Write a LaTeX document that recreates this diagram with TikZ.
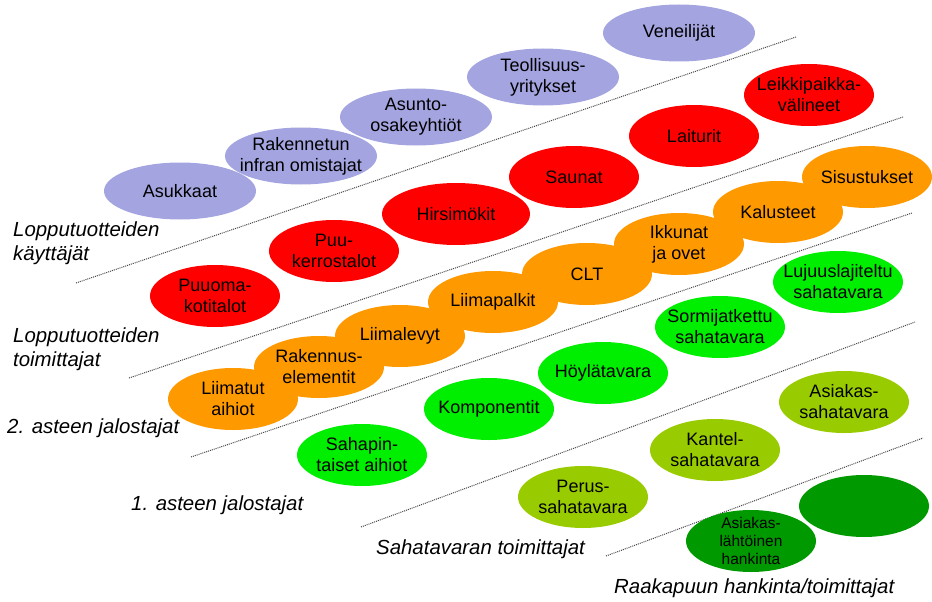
\documentclass[tikz,border=0pt]{standalone}
\usepackage{fontspec}
\setmainfont{Liberation Sans}
\usetikzlibrary{shapes.geometric}
\pgfdeclarelayer{front}
\pgfsetlayers{main,front}

\definecolor{users}{RGB}{164,164,224}
\definecolor{endprod}{RGB}{255,0,0}
\definecolor{second}{RGB}{255,153,0}
\definecolor{first}{RGB}{0,238,0}
\definecolor{sawn}{RGB}{153,204,0}
\definecolor{raw}{RGB}{0,153,0}

\tikzset{
  bub/.style={ellipse, inner sep=0pt, minimum width=130pt, minimum height=62pt, draw=none},
  btxt/.style={align=center, inner sep=0pt, font=\fontsize{18}{21}\selectfont},
  tier/.style={inner sep=0pt, align=left, font=\fontsize{20.4}{24}\selectfont\itshape},
  sep/.style={black!72, line width=1pt, dash pattern=on 1pt off 1pt},
}

% [text style]{fill colour}{ellipse options}{name}{centre}{text}
\newcommand{\blob}[6][]{%
  \node[bub, fill=#2, #3] (#4) at (#5) {};
  \begin{pgfonlayer}{front}\node[btxt,#1] (#4-t) at (#4) {#6};\end{pgfonlayer}
}

\begin{document}
\begin{tikzpicture}[x=1pt,y=-1pt]
\useasboundingbox (0,0) rectangle (932,602);

% tier separators
\coordinate (s1a) at (76,283);   \coordinate (s1b) at (796,37);
\coordinate (s2a) at (129,378);  \coordinate (s2b) at (903,117);
\coordinate (s3a) at (191,457);  \coordinate (s3b) at (912,213);
\coordinate (s4a) at (361,527);  \coordinate (s4b) at (915,322);
\coordinate (s5a) at (606,556);  \coordinate (s5b) at (923,438);
\draw[sep] (s1a) -- (s1b);
\draw[sep] (s2a) -- (s2b);
\draw[sep] (s3a) -- (s3b);
\draw[sep] (s4a) -- (s4b);
\draw[sep] (s5a) -- (s5b);

% end product users
\blob{users}{minimum width=152pt,minimum height=57pt}{asukkaat}{180,191}{Asukkaat}
\blob{users}{minimum width=152pt,minimum height=57pt}{infra}{301,156}{Rakennetun\\infran omistajat}
\blob{users}{minimum width=152pt,minimum height=57pt}{asunto}{416,117}{Asunto-\\osakeyhtiöt}
\blob{users}{minimum width=152pt,minimum height=57pt}{teoll}{543,77}{Teollisuus-\\yritykset}
\blob{users}{minimum width=152pt,minimum height=57pt}{veneil}{679,33}{Veneilijät}

% end product suppliers
\blob{endprod}{}{puuoma}{215,296}{Puuoma-\\kotitalot}
\blob{endprod}{}{puuker}{334,251}{Puu-\\kerrostalot}
\blob{endprod}{minimum width=148pt}{hirsi}{456,214}{Hirsimökit}
\blob{endprod}{}{saunat}{574,177}{Saunat}
\blob{endprod}{}{laiturit}{694,136}{Laiturit}
\blob{endprod}{}{leikki}{809,95}{Leikkipaikka-\\välineet}

% secondary processors
\blob{second}{}{liimatut}{233,399}{Liimatut\\aihiot}
\blob{second}{}{rakel}{319,367}{Rakennus-\\elementit}
\blob{second}{}{liimalevyt}{400,336}{Liimalevyt}
\blob{second}{}{liimapalkit}{493,302}{Liimapalkit}
\blob{second}{}{clt}{587,274}{CLT}
\blob{second}{}{ikkunat}{679,244}{Ikkunat\\ja ovet}
\blob{second}{}{kalusteet}{778,212}{Kalusteet}
\blob{second}{}{sisustukset}{867,177}{Sisustukset}

% primary processors
\blob{first}{}{sahapin}{362,455}{Sahapin-\\taiset aihiot}
\blob{first}{}{komp}{489,409}{Komponentit}
\blob{first}{}{hoyla}{603,373}{Höylätavara}
\blob{first}{}{sormi}{720,327}{Sormijatkettu\\sahatavara}
\blob{first}{}{lujuus}{838,282}{Lujuuslajiteltu\\sahatavara}

% sawn timber suppliers
\blob{sawn}{}{perus}{583,497}{Perus-\\sahatavara}
\blob{sawn}{}{kantel}{715,450}{Kantel-\\sahatavara}
\blob{sawn}{}{asiakassaha}{844,402}{Asiakas-\\sahatavara}

% raw wood procurement
\blob{raw}{}{tyhja}{864,506}{}
\blob[font=\fontsize{15.5}{18}\selectfont]{raw}{}{hankinta}{751,541}{Asiakas-\\lähtöinen\\hankinta}

% tier labels
\node[tier, anchor=north west] (t1) at (13,222) {Lopputuotteiden\\käyttäjät};
\node[tier, anchor=north west] (t2) at (13,328) {Lopputuotteiden\\toimittajat};
\node[tier, anchor=base west] (t3) at (7,433) {2. asteen jalostajat};
\node[tier, anchor=base west] (t4) at (131,510) {1. asteen jalostajat};
\node[tier, anchor=base west] (t5) at (376,554) {Sahatavaran toimittajat};
\node[tier, anchor=base west] (t6) at (614,593) {Raakapuun hankinta/toimittajat};
\end{tikzpicture}
\end{document}
